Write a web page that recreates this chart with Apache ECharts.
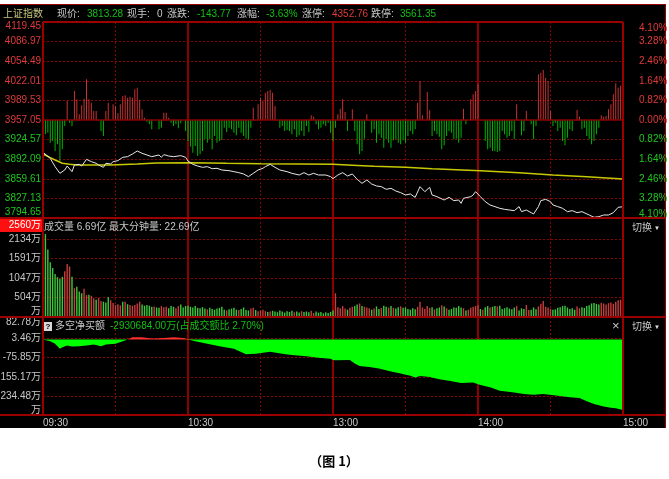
<!DOCTYPE html>
<html><head><meta charset="utf-8"><title>上证指数</title>
<script src="https://cdn.jsdelivr.net/npm/echarts@6/dist/echarts.min.js"></script>
<style>
html,body{margin:0;padding:0;background:#fff;}
#wrap{position:relative;width:669px;height:479px;overflow:hidden;}
#bg{position:absolute;left:0;top:4px;width:666px;height:424px;background:#000;}
#c{position:absolute;left:0;top:0;width:669px;height:479px;}
</style></head><body>
<div id="wrap"><div id="bg"></div><div id="c"></div></div>
<script>
// ---------- data ----------
const timeLabels = ['09:30','10:30','13:00','14:00','15:00'];
const priceTicks = ['3794.65','3827.13','3859.61','3892.09','3924.57','3957.05','3989.53','4022.01','4054.49','4086.97','4119.45'];
const pctTicks = ['4.10%','3.28%','2.46%','1.64%','0.82%','0.00%','0.82%','1.64%','2.46%','3.28%','4.10%'];
const volTicks = ['万','504万','1047万','1591万','2134万','2560万'];
const netTicks = ['万','234.48万','155.17万','-75.85万','3.46万','82.78万'];
const priceMin = 3794.65, priceMax = 4119.45;

// index (minute, price)
const priceLine = [[0,3903.5],[3,3893.5],[5,3879.7],[7,3868.7],[9,3874.2],[10,3880.8],[12,3871.4],[13,3882.5],[15,3883.6],[16,3880.8],[18,3891.9],[20,3888.0],[22,3885.3],[23,3882.5],[25,3878.6],[26,3885.3],[28,3884.2],[29,3888.0],[31,3889.7],[33,3895.2],[35,3896.3],[37,3900.7],[39,3905.7],[41,3901.8],[43,3899.1],[45,3896.3],[48,3899.1],[49,3895.2],[50,3899.7],[52,3897.4],[54,3896.3],[57,3898.0],[59,3895.2],[60,3889.1],[62,3883.6],[64,3880.8],[66,3878.6],[68,3879.7],[70,3876.4],[72,3877.0],[74,3874.2],[77,3873.1],[79,3871.4],[81,3869.8],[83,3867.6],[85,3863.2],[87,3868.7],[89,3874.2],[91,3877.0],[92,3879.7],[94,3883.6],[96,3878.6],[98,3874.2],[101,3871.4],[103,3868.7],[106,3865.9],[108,3869.8],[110,3865.9],[112,3868.7],[114,3865.9],[117,3865.9],[119,3863.2],[120,3859.9],[122,3865.9],[124,3869.8],[126,3864.3],[128,3867.6],[130,3858.7],[132,3852.1],[134,3857.6],[136,3851.0],[138,3847.7],[140,3846.6],[142,3842.2],[144,3843.8],[146,3839.4],[148,3836.6],[150,3832.8],[152,3834.4],[154,3828.9],[156,3846.6],[158,3838.3],[160,3845.5],[161,3832.8],[163,3830.0],[166,3824.5],[168,3828.9],[170,3823.4],[172,3824.5],[173,3819.0],[174,3827.3],[177,3830.0],[178,3832.8],[179,3838.3],[181,3830.0],[183,3821.7],[185,3816.2],[187,3813.5],[189,3810.7],[191,3809.0],[193,3807.9],[195,3806.8],[197,3813.5],[198,3805.2],[200,3807.9],[202,3803.5],[203,3801.3],[205,3813.5],[206,3823.4],[208,3825.6],[210,3821.7],[211,3816.2],[213,3813.5],[215,3810.7],[217,3805.2],[219,3806.8],[221,3803.5],[223,3805.2],[226,3799.6],[228,3795.8],[230,3796.9],[232,3799.6],[234,3799.6],[236,3803.5],[238,3812.4],[240,3813.28]];
const avgLine = [[0,3900.7],[3,3894.6],[5,3890.8],[8,3885.3],[11,3883.6],[14,3882.5],[28,3882.5],[39,3884.2],[47,3885.8],[61,3886.4],[76,3885.3],[90,3884.7],[120,3883.6],[128,3882.0],[137,3880.3],[150,3878.6],[161,3876.4],[181,3873.1],[197,3869.8],[211,3865.9],[225,3863.2],[240,3859.3]];
// red/green strength bars (minute, value)
const strength = [[1,-23.7],[2,-21.0],[3,-37.6],[4,-34.8],[5,-51.4],[6,-40.3],[7,-67.9],[8,-48.6],[9,-9.9],[10,31.5],[11,-4.4],[12,-9.9],[13,48.0],[14,34.2],[15,9.4],[16,24.3],[17,35.3],[18,67.4],[19,34.2],[20,28.7],[21,14.9],[22,14.9],[24,-18.2],[25,-26.5],[26,14.9],[27,28.7],[29,26.0],[30,23.2],[31,11.0],[32,26.0],[33,39.8],[34,40.9],[35,37.0],[36,38.7],[37,37.0],[38,50.8],[39,53.6],[40,33.1],[41,17.7],[42,3.9],[43,-2.8],[44,-7.2],[45,-15.5],[48,-15.5],[49,-12.7],[50,12.2],[51,12.2],[52,3.9],[53,-4.4],[54,-9.9],[55,-7.2],[56,-13.8],[57,-5.5],[59,-18.2],[60,-34.8],[61,-44.2],[62,-54.1],[63,-43.1],[64,-59.6],[65,-56.9],[66,-51.4],[67,-32.0],[68,-37.6],[69,-32.0],[70,-48.6],[71,-26.5],[72,-37.6],[73,-34.8],[74,-33.1],[75,-12.7],[76,-19.9],[77,-12.7],[78,-15.5],[79,-21.0],[80,-25.4],[81,-12.7],[82,-21.0],[83,-26.5],[84,-30.9],[85,-32.0],[86,-12.7],[87,20.4],[89,26.0],[90,37.0],[91,31.5],[92,45.3],[93,48.0],[94,49.7],[95,45.3],[96,23.2],[98,-12.7],[99,-9.9],[100,-18.2],[101,-16.6],[102,-18.2],[103,-23.7],[104,-15.5],[105,-28.2],[106,-25.4],[107,-18.2],[108,-26.5],[109,-9.9],[110,-19.9],[111,7.7],[112,5.5],[113,-7.2],[114,-15.5],[115,-12.7],[116,-7.2],[117,-9.9],[118,-4.4],[119,-21.0],[120,-34.8],[121,-12.7],[122,9.4],[123,18.8],[124,34.2],[125,13.3],[126,-18.2],[128,17.7],[129,-18.2],[130,-40.3],[131,-56.9],[132,-51.4],[133,-30.9],[134,9.4],[136,-21.0],[137,-15.5],[138,-37.6],[139,-23.7],[140,-29.3],[141,-45.8],[142,-32.0],[143,-37.6],[144,-45.8],[145,-33.7],[146,-32.0],[147,-37.6],[148,-40.3],[149,-33.1],[150,-37.6],[151,-26.5],[152,-18.2],[153,-23.7],[154,-15.5],[155,28.7],[156,64.6],[157,7.7],[159,46.4],[160,16.0],[161,-26.5],[162,-18.2],[163,-23.7],[164,-27.6],[165,-48.6],[166,-42.0],[167,-26.5],[168,-18.2],[169,-21.0],[170,-32.0],[171,-30.9],[172,-37.6],[173,-29.3],[174,18.8],[175,-7.2],[177,34.2],[178,42.5],[179,48.0],[180,59.1],[183,-34.8],[184,-48.6],[185,-45.8],[186,-51.4],[187,-51.4],[188,-53.0],[189,-51.4],[190,-18.2],[191,-23.7],[192,-29.3],[193,-26.5],[194,-18.2],[195,-32.0],[196,26.0],[198,-25.4],[199,-18.2],[200,14.9],[202,-7.2],[203,-32.0],[204,-9.9],[205,75.7],[206,78.4],[207,82.8],[208,70.1],[209,64.6],[210,14.9],[211,-9.9],[212,-4.4],[213,-18.2],[214,-12.7],[215,-34.8],[216,-42.0],[217,-29.3],[218,-15.5],[219,-18.2],[221,16.6],[222,5.5],[223,-15.5],[224,-12.7],[225,-26.5],[226,-32.0],[227,-40.3],[228,-34.8],[229,-23.7],[230,-12.7],[231,7.7],[232,5.5],[233,6.6],[234,17.7],[235,26.0],[236,42.5],[237,60.8],[238,53.6],[239,56.9],[240,45.3]];
// per-minute volume (万), index = minute 0..240
const volume = [
856,2269,1850,1500,1340,1180,1090,1040,1100,1250,
1450,1380,1100,790,830,700,650,770,600,610,
580,510,470,520,440,420,400,540,460,380,
330,350,320,420,420,350,330,310,330,370,
420,340,310,330,310,280,290,260,250,300,
270,280,240,300,280,240,300,340,260,300,
310,280,260,300,250,240,270,230,210,250,
220,200,230,250,280,200,180,210,230,250,
200,190,220,260,190,180,230,250,190,160,
180,200,160,140,150,170,150,130,180,150,
120,160,140,170,130,150,120,160,140,150,
130,170,110,150,120,140,100,130,110,140,
180,650,270,240,300,230,200,250,280,300,
340,370,300,280,260,240,200,230,290,220,
250,310,280,260,300,250,230,270,290,250,
260,220,200,240,210,280,420,260,220,300,
250,270,210,240,260,320,290,240,200,220,
260,250,300,260,240,180,200,250,280,300,
320,220,200,270,300,260,280,300,290,310,
220,240,270,230,210,260,300,180,240,220,
330,190,200,260,210,290,360,440,280,260,
220,200,210,250,270,300,310,260,220,240,
200,290,240,270,250,300,320,370,380,360,
340,390,370,340,380,400,360,420,460,470,
480];
// 1 = up minute (red), 0 = down minute (green)
const volDir = [
0,0,0,0,0,0,0,0,0,1, 1,1,0,1,0,0,0,1,1,0, 1,1,0,1,1,0,0,0,1,1, 1,1,1,0,1,0,1,1,1,1,
1,0,0,0,0,0,1,0,0,1, 1,1,0,0,0,1,1,0,0,0, 0,0,0,0,0,0,0,0,1,0, 0,0,0,0,0,0,1,0,0,0,
0,1,0,0,0,0,1,1,0,1, 1,1,1,0,1,0,0,0,0,0, 0,0,0,0,1,0,0,1,0,0, 0,1,1,0,0,0,0,0,0,0,
0,1,1,1,1,1,0,1,1,0, 0,1,0,1,1,1,0,1,0,0, 1,0,0,1,0,1,0,0,1,0, 0,0,0,0,0,1,1,1,1,1,
1,0,1,0,0,1,0,1,0,0, 0,0,0,0,1,0,1,1,1,1, 1,0,1,0,0,1,0,0,1,0, 0,0,0,0,0,0,1,0,0,0,
1,1,0,0,0,1,1,1,1,1, 1,0,0,0,0,0,0,0,0,0, 0,1,1,0,0,0,0,0,0,0, 0,1,1,1,1,1,1,1,1,1,
1];
// 多空净买额 (minute, value)
const netBuy = [[0,0],[3,-7.6],[5,-18],[7,-39],[8,-32],[10,-25],[12,-29],[15,-28],[18,-25],[21,-21],[24,-28],[26,-21],[30,-18],[33,-7.6],[35,-0.7],[37,8.8],[41,8.8],[44,5],[46,3.5],[50,6],[54,8.8],[58,6],[60,2],[63,-7.6],[68,-18],[73,-28],[79,-39],[84,-62],[88,-59],[94,-51],[99,-59],[103,-65],[109,-70],[114,-76],[119,-80],[120,-85],[121,-87],[127,-85],[129,-100],[131,-110],[135,-114],[139,-121],[144,-133],[148,-142],[152,-151],[154,-158],[156,-152],[160,-156],[164,-165],[168,-172],[173,-181],[178,-179],[181,-189],[185,-199],[189,-213],[195,-220],[199,-227],[203,-230],[207,-227],[213,-234],[218,-240],[222,-243],[225,-257],[228,-268],[232,-279],[235,-284],[237,-286],[240,-293]];

// ---------- style ----------
const RED = '#e03a3a', GREEN = '#1ec81e', GRAY = '#c8c8c8', D = '#8c0000', S = '#8c0000', T = 'rgba(0,0,0,0)';
const FONT = '"Liberation Sans","Noto Sans CJK SC",sans-serif';
const FS = 10;
const tok = (extra) => Object.assign({fontSize: FS, fontFamily: FONT}, extra);

const upS = strength.filter(d => d[1] > 0), dnS = strength.filter(d => d[1] < 0);
const volUpData = [], volDnData = [];
volume.forEach((v, i) => (volDir[i] ? volUpData : volDnData).push([i, v]));
const netPos = netBuy.map(([m, v]) => [m, v > 0 ? v : 0]);
const netNeg = netBuy.map(([m, v]) => [m, v < 0 ? v : 0]);

const xAxes = [];
for (let g = 0; g < 3; g++) {
  xAxes.push({type: 'value', gridIndex: g, min: 0, max: 240, interval: 30, position: 'top',
    axisLine: {show: false}, axisTick: {show: false}, axisLabel: {show: false},
    splitLine: {show: true, lineStyle: {color: [T, D, T, D, T, D, T, D, T], type: [2, 2], width: 1}}});
  xAxes.push({type: 'value', gridIndex: g, min: 0, max: 240, interval: 60, position: 'bottom',
    axisLine: {show: false}, axisTick: {show: false},
    axisLabel: g === 2 ? {show: true, formatter: v => timeLabels[v / 60], align: 'left', margin: 3,
      color: GRAY, fontSize: FS, fontFamily: FONT} : {show: false},
    splitLine: {show: true, lineStyle: {color: [T, S, S, S, T], type: 'solid', width: 2}}});
}

const yAxes = [
  { // 0 price ticks (left)
    type: 'value', gridIndex: 0, min: 0, max: 10, interval: 1, position: 'left',
    axisLine: {show: false}, axisTick: {show: false},
    splitLine: {show: true, lineStyle: {color: [T, D, D, D, D, T, D, D, D, D, T], type: [2, 2], width: 1}},
    axisLabel: {margin: 2, formatter: v => {
      const s = priceTicks[v];
      if (v === 10) return '{t|' + s + '}';
      if (v === 0) return '{b|' + s + '}';
      return v >= 5 ? '{r|' + s + '}' : '{g|' + s + '}';
    }, rich: {t: tok({color: RED, padding: [9, 0, 0, 0]}), b: tok({color: GREEN, padding: [0, 0, 12, 0]}),
      r: tok({color: RED}), g: tok({color: GREEN})}}
  },
  { // 1 pct ticks (right)
    type: 'value', gridIndex: 0, min: 0, max: 10, interval: 1, position: 'right',
    axisLine: {show: false}, axisTick: {show: false}, splitLine: {show: false},
    axisLabel: {margin: 16, align: 'left', formatter: v => {
      const s = pctTicks[v];
      if (v === 10) return '{t|' + s + '}';
      if (v === 0) return '{b|' + s + '}';
      return v >= 5 ? '{r|' + s + '}' : '{g|' + s + '}';
    }, rich: {t: tok({color: RED, padding: [12, 0, 0, 0]}), b: tok({color: GREEN, padding: [0, 0, 8, 0]}),
      r: tok({color: RED}), g: tok({color: GREEN})}}
  },
  {type: 'value', gridIndex: 0, min: priceMin, max: priceMax, show: false}, // 2 price data
  {type: 'value', gridIndex: 0, min: -162.4, max: 162.4, show: false},     // 3 strength
  { // 4 volume ticks
    type: 'value', gridIndex: 1, min: 0, max: 5.08, interval: 1, position: 'left',
    axisLine: {show: false}, axisTick: {show: false},
    splitLine: {show: true, lineStyle: {color: [T, D, D, D, D, T, T], type: [2, 2], width: 1}},
    axisLabel: {margin: 0, formatter: v => {
      if (!Number.isInteger(v)) return '';
      if (v === 5) return '{sp| }\n{hl|' + volTicks[5] + '}';
      if (v === 0) return '{b|' + volTicks[0] + '}';
      return '{n|' + volTicks[v] + '}';
    }, rich: {sp: tok({lineHeight: 11, height: 11}),
      hl: tok({color: '#ffffff', backgroundColor: '#ff1010', width: 41, height: 14, lineHeight: 14, align: 'right', padding: [0, 2, 0, 0]}),
      b: tok({color: GRAY, padding: [0, 2, 11, 0]}), n: tok({color: GRAY, padding: [0, 2, 0, 0]})}}
  },
  {type: 'value', gridIndex: 1, min: 0, max: 2709, show: false}, // 5 volume data
  { // 6 net ticks
    type: 'value', gridIndex: 2, min: 0, max: 5.13, interval: 1, position: 'left',
    axisLine: {show: false}, axisTick: {show: false},
    splitLine: {show: true, lineStyle: {color: [T, D, D, D, D, T, T], type: [2, 2], width: 1}},
    axisLabel: {margin: 2, formatter: v => {
      if (!Number.isInteger(v)) return '{t|' + netTicks[5] + '}';
      if (v === 5) return '';
      if (v === 0) return '{b|' + netTicks[0] + '}';
      return '{n|' + netTicks[v] + '}';
    }, rich: {t: tok({color: GRAY, padding: [10, 0, 0, 0]}), b: tok({color: GRAY, padding: [0, 0, 10, 0]}), n: tok({color: GRAY})}}
  },
  {type: 'value', gridIndex: 2, min: -313.82, max: 93.1, show: false} // 7 net data
];

const txt = (x, y, text, fill, extra) => Object.assign({type: 'text', z: 120, style: {x, y, text, fill,
  font: FS + 'px ' + FONT, verticalAlign: 'middle', textVerticalAlign: 'middle'}}, extra || {});
const ln = (x1, y1, x2, y2, w) => ({type: 'line', z: 100, shape: {x1, y1, x2, y2}, style: {stroke: '#9a0000', lineWidth: w || 2}});

const graphics = [
  ln(0, 4.5, 666, 4.5, 1), ln(665.5, 4, 665.5, 428, 1),
  ln(43, 22, 623, 22), ln(0, 218, 666, 218), ln(0, 317, 666, 317), ln(0, 415, 666, 415),
  ln(43, 22, 43, 415), ln(623, 22, 623, 415),
  txt(3, 14, '上证指数', '#c8c880'),
  txt(57, 14, '现价:', GRAY), txt(87, 14, '3813.28', '#10c010'),
  txt(127, 14, '现手:', GRAY), txt(157, 14, '0', GRAY),
  txt(167, 14, '涨跌:', GRAY), txt(197, 14, '-143.77', '#10c010'),
  txt(237, 14, '涨幅:', GRAY), txt(266, 14, '-3.63%', '#10c010'),
  txt(302, 14, '涨停:', GRAY), txt(332, 14, '4352.76', RED),
  txt(371, 14, '跌停:', GRAY), txt(400, 14, '3561.35', '#10c010'),
  txt(44, 227, '成交量 6.69亿 最大分钟量: 22.69亿', GRAY),
  {type: 'rect', z: 120, shape: {x: 44, y: 322, width: 8, height: 9}, style: {fill: '#d8d8d8'}},
  txt(48, 326.8, '?', '#000', {style: {x: 48, y: 326.8, text: '?', fill: '#000', font: 'bold 8px ' + FONT,
    align: 'center', textAlign: 'center', verticalAlign: 'middle', textVerticalAlign: 'middle'}}),
  txt(55, 326.5, '多空净买额', GRAY),
  txt(110, 326.5, '-2930684.00万(占成交额比 2.70%)', '#10c010'),
  txt(612, 326, '×', GRAY, {style: {x: 612, y: 326, text: '×', fill: GRAY, font: '13px ' + FONT, verticalAlign: 'middle', textVerticalAlign: 'middle'}}),
  txt(632, 228, '切换', GRAY), txt(654, 228, '▼', '#e0e0e0', {style: {x: 654, y: 228, text: '▼', fill: '#e0e0e0', font: '6px ' + FONT, verticalAlign: 'middle', textVerticalAlign: 'middle'}}),
  txt(632, 327, '切换', GRAY), txt(654, 327, '▼', '#e0e0e0', {style: {x: 654, y: 327, text: '▼', fill: '#e0e0e0', font: '6px ' + FONT, verticalAlign: 'middle', textVerticalAlign: 'middle'}}),
  {type: 'text', z: 120, style: {x: 334, y: 461, text: '（图 1）', fill: '#000', font: 'bold 13px "Noto Sans CJK SC",sans-serif',
    align: 'center', textAlign: 'center', verticalAlign: 'middle', textVerticalAlign: 'middle'}}
];

const chart = echarts.init(document.getElementById('c'), null, {renderer: 'canvas'});
chart.setOption({
  animation: false,
  backgroundColor: 'transparent',
  grid: [
    {left: 43, top: 22, width: 580, height: 196, outerBoundsMode: 'none', containLabel: false},
    {left: 43, top: 218, width: 580, height: 99, outerBoundsMode: 'none', containLabel: false},
    {left: 43, top: 317, width: 580, height: 98, outerBoundsMode: 'none', containLabel: false}
  ],
  xAxis: xAxes,
  yAxis: yAxes,
  graphic: graphics,
  series: [
    {type: 'bar', xAxisIndex: 0, yAxisIndex: 3, data: upS, barWidth: 1, barGap: '-100%', silent: true,
      itemStyle: {color: '#c83232'},
      markLine: {silent: true, symbol: 'none', label: {show: false}, data: [{yAxis: 0}],
        lineStyle: {color: '#8c0000', type: 'solid', width: 1.5}}},
    {type: 'bar', xAxisIndex: 0, yAxisIndex: 3, data: dnS, barWidth: 1, barGap: '-100%', silent: true,
      itemStyle: {color: '#00b400'}},
    {type: 'line', xAxisIndex: 0, yAxisIndex: 2, data: avgLine, symbol: 'none', silent: true,
      lineStyle: {color: '#c8c800', width: 1.5}},
    {type: 'line', xAxisIndex: 0, yAxisIndex: 2, data: priceLine, symbol: 'none', silent: true,
      lineStyle: {color: '#e6e6e6', width: 1}},
    {type: 'bar', xAxisIndex: 2, yAxisIndex: 5, data: volUpData, barWidth: 1.4, barGap: '-100%', silent: true,
      itemStyle: {color: '#c83c3c'}},
    {type: 'bar', xAxisIndex: 2, yAxisIndex: 5, data: volDnData, barWidth: 1.4, barGap: '-100%', silent: true,
      itemStyle: {color: '#3cc83c'}},
    {type: 'line', xAxisIndex: 4, yAxisIndex: 7, data: netPos, symbol: 'none', silent: true,
      lineStyle: {width: 0}, areaStyle: {color: '#ff3030', opacity: 1}},
    {type: 'line', xAxisIndex: 4, yAxisIndex: 7, data: netNeg, symbol: 'none', silent: true,
      lineStyle: {width: 0}, areaStyle: {color: '#00ff00', opacity: 1}}
  ]
});
</script></body></html>
